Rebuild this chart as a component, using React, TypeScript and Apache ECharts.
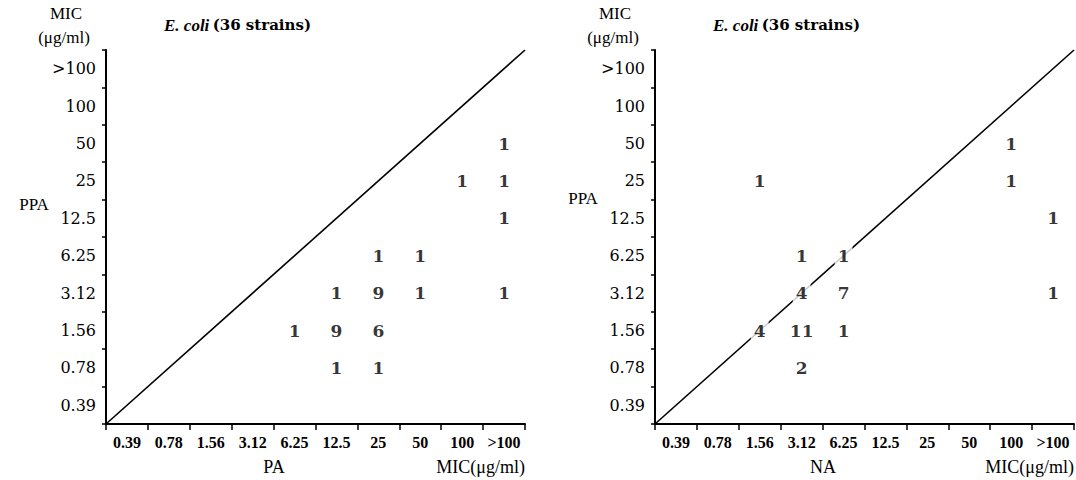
import React, { useEffect, useRef } from 'react';
import * as echarts from 'echarts';

// MIC levels (µg/ml) used on both axes
const micLevels = ['0.39', '0.78', '1.56', '3.12', '6.25', '12.5', '25', '50', '100', '>100'];

// Left panel: [PA MIC, PPA MIC, number of strains]
const paCells: [string, string, number][] = [
  ['>100', '50', 1],
  ['100', '25', 1], ['>100', '25', 1],
  ['>100', '12.5', 1],
  ['25', '6.25', 1], ['50', '6.25', 1],
  ['12.5', '3.12', 1], ['25', '3.12', 9], ['50', '3.12', 1], ['>100', '3.12', 1],
  ['6.25', '1.56', 1], ['12.5', '1.56', 9], ['25', '1.56', 6],
  ['12.5', '0.78', 1], ['25', '0.78', 1],
];

// Right panel: [NA MIC, PPA MIC, number of strains]
const naCells: [string, string, number][] = [
  ['100', '50', 1],
  ['1.56', '25', 1], ['100', '25', 1],
  ['>100', '12.5', 1],
  ['3.12', '6.25', 1], ['6.25', '6.25', 1],
  ['3.12', '3.12', 4], ['6.25', '3.12', 7], ['>100', '3.12', 1],
  ['1.56', '1.56', 4], ['3.12', '1.56', 11], ['6.25', '1.56', 1],
  ['3.12', '0.78', 2],
];

// line of equal MIC (diagonal), in band units 0..10
const equalLine = [[0, 0], [10, 10]];

const panelNames = ['PA', 'NA'];
const titleSpecies = 'E. coli';
const titleCount = '(36 strains)';

export default function App() {
  const ref = useRef<HTMLDivElement>(null);

  useEffect(() => {
    const chart = echarts.init(ref.current!, null, { renderer: 'svg' });
    const gridDefs = [
      { left: 106, top: 50, width: 419, height: 374 },
      { left: 655, top: 50, width: 419, height: 374 },
    ];
    const serif = '"DejaVu Serif", "Liberation Serif", serif';
    const times = '"Liberation Serif", serif';

    // category axes: labels only
    const catX = (g: number) => ({
      type: 'category', gridIndex: g, data: micLevels, boundaryGap: true, position: 'bottom',
      axisLine: { show: false }, axisTick: { show: false }, splitLine: { show: false },
      axisLabel: { show: true, color: '#000', fontFamily: times, fontWeight: 'bold', fontSize: 16, margin: 10, interval: 0 },
    });
    const catY = (g: number) => ({
      type: 'category', gridIndex: g, data: micLevels, boundaryGap: true, position: 'left',
      axisLine: { show: false }, axisTick: { show: false }, splitLine: { show: false },
      axisLabel: { show: true, color: '#000', fontFamily: serif, fontSize: 16, margin: 10, interval: 0 },
    });
    // value axes in band units: band-boundary ticks
    const valX = (g: number) => ({
      type: 'value', gridIndex: g, min: 0, max: 10, interval: 1, position: 'bottom',
      axisLine: { show: true, onZero: false, lineStyle: { color: '#000', width: 2 } },
      axisTick: { show: true, length: 6, lineStyle: { color: '#000', width: 1.5 } },
      axisLabel: { show: false }, splitLine: { show: false },
    });
    const valY = (g: number) => ({
      type: 'value', gridIndex: g, min: 0, max: 10, interval: 1, position: 'left',
      axisLine: { show: true, onZero: false, lineStyle: { color: '#000', width: 2 } },
      axisTick: { show: true, length: 4, lineStyle: { color: '#000', width: 1.5 } },
      axisLabel: { show: false }, splitLine: { show: false },
    });

    const cellSeries = (g: number, cells: [string, string, number][]) => ({
      type: 'scatter', xAxisIndex: g, yAxisIndex: g, z: 5,
      data: cells.map((c) => [c[0], c[1], c[2]]),
      symbol: 'circle', symbolSize: 1,
      itemStyle: { color: 'rgba(255,255,255,0)' },
      label: {
        show: true, position: 'inside',
        formatter: (p: any) => String(p.value[2]),
        color: '#000', textBorderWidth: 0, fontFamily: serif, fontWeight: 'bold', fontSize: 17,
        backgroundColor: '#fff', padding: [2, 3],
      },
      silent: true,
    });
    const lineSeries = (g: number) => ({
      type: 'line', xAxisIndex: 2 + g, yAxisIndex: 2 + g, z: 2,
      data: equalLine, symbol: 'none', silent: true,
      lineStyle: { color: '#000', width: 1.6 },
    });

    const texts: any[] = [];
    gridDefs.forEach((gd, g) => {
      const ax = gd.left;
      const right = gd.left + gd.width;
      const bottom = gd.top + gd.height;
      texts.push(
        // axis frame lines (left and bottom edges of the grid)
        { type: 'rect', z: 10, shape: { x: ax - 1, y: gd.top, width: 2, height: gd.height + 1 }, style: { fill: '#000' } },
        { type: 'rect', z: 10, shape: { x: ax - 1, y: bottom - 1, width: gd.width + 1, height: 2 }, style: { fill: '#000' } },
        { type: 'text', x: ax - 40, y: 13, style: { text: 'MIC', align: 'center', verticalAlign: 'middle', fontFamily: times, fontSize: 17, fill: '#000' } },
        { type: 'text', x: ax - 42, y: 37, style: { text: '(μg/ml)', align: 'center', verticalAlign: 'middle', fontFamily: times, fontSize: 17, fill: '#000' } },
        { type: 'text', x: ax - 72, y: g === 0 ? 204 : 198, style: { text: 'PPA', align: 'center', verticalAlign: 'middle', fontFamily: times, fontSize: 17, fill: '#000' } },
        {
          type: 'text', x: ax + 58, y: 25,
          style: {
            text: `{i|${titleSpecies}} {n|${titleCount}}`, align: 'left', verticalAlign: 'middle', fill: '#000',
            rich: {
              i: { fontFamily: times, fontStyle: 'italic', fontWeight: 'bold', fontSize: 17, fill: '#000' },
              n: { fontFamily: serif, fontWeight: 'bold', fontSize: 15, fill: '#000' },
            },
          },
        },
        { type: 'text', x: ax + 168, y: 467, style: { text: panelNames[g], align: 'center', verticalAlign: 'middle', fontFamily: times, fontSize: 18, fill: '#000' } },
        { type: 'text', x: right, y: 467, style: { text: 'MIC(μg/ml)', align: 'right', verticalAlign: 'middle', fontFamily: times, fontSize: 18, fill: '#000' } },
      );
    });

    chart.setOption({
      animation: false,
      backgroundColor: '#fff',
      grid: gridDefs,
      xAxis: [catX(0), catX(1), valX(0), valX(1)],
      yAxis: [catY(0), catY(1), valY(0), valY(1)],
      series: [lineSeries(0), lineSeries(1), cellSeries(0, paCells), cellSeries(1, naCells)],
      graphic: texts,
    } as any);

    return () => chart.dispose();
  }, []);

  return <div ref={ref} style={{ position: 'absolute', left: 0, top: 0, width: 1076, height: 480, background: '#fff' }} />;
}
